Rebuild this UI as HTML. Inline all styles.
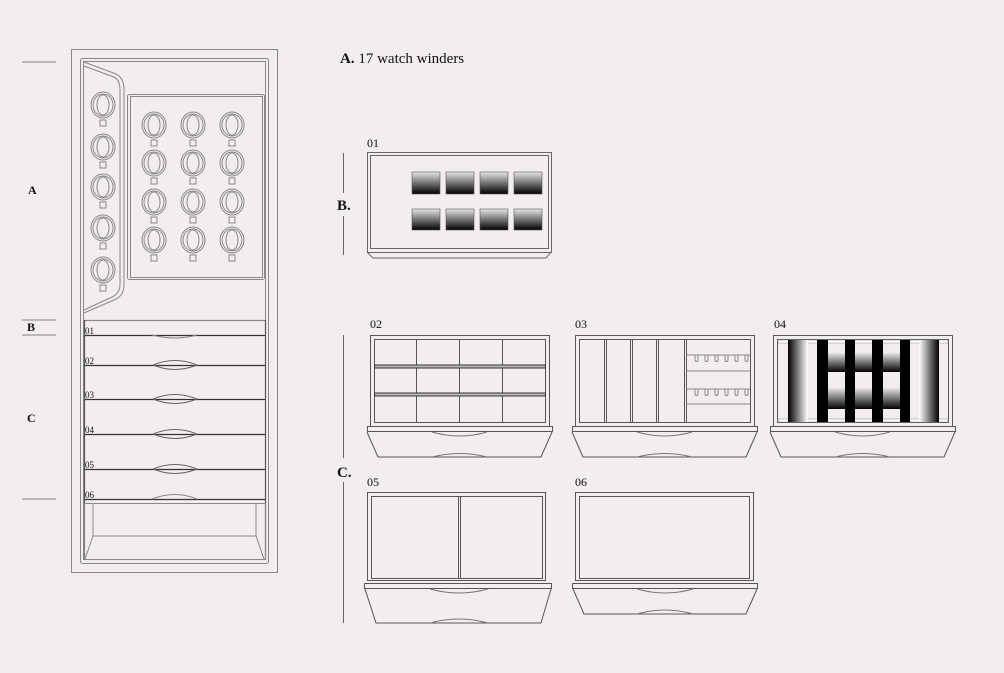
<!DOCTYPE html>
<html><head><meta charset="utf-8"><style>
html,body{margin:0;padding:0;background:#f2eeef;}
svg{display:block;}
text{font-family:"Liberation Serif",serif;fill:#111;}
</style></head><body>
<svg width="1004" height="673" viewBox="0 0 1004 673" xmlns="http://www.w3.org/2000/svg">
<defs>
<linearGradient id="gv" x1="0" y1="0" x2="0" y2="1"><stop offset="0" stop-color="#e6e6e6"/><stop offset="1" stop-color="#000"/></linearGradient>
<linearGradient id="gh" x1="0" y1="0" x2="1" y2="0"><stop offset="0" stop-color="#000"/><stop offset="1" stop-color="#fff"/></linearGradient>
<linearGradient id="gh2" x1="0" y1="0" x2="1" y2="0"><stop offset="0" stop-color="#fff"/><stop offset="1" stop-color="#000"/></linearGradient>
<g id="w" fill="none" stroke="#888" stroke-width="1"><ellipse cx="0" cy="0" rx="12" ry="13"/><ellipse cx="0" cy="0" rx="10" ry="11"/><ellipse cx="0" cy="0" rx="6" ry="10"/><rect x="-3" y="15" width="6" height="6"/></g>
<g id="hd" fill="none" stroke="#666"><path d="M-22 0 Q0 9 22 0"/><path d="M-22 0 Q0 -9 22 0"/></g>
</defs>
<g stroke="#999" stroke-width="1.3">
<line x1="22" y1="62" x2="56" y2="62"/><line x1="22" y1="320" x2="56" y2="320"/><line x1="22" y1="335" x2="56" y2="335"/><line x1="22" y1="499" x2="56" y2="499"/>
</g>
<g font-size="12" font-weight="bold"><text x="28" y="194">A</text><text x="27" y="331">B</text><text x="27" y="422">C</text></g>
<!-- cabinet -->
<g fill="none" stroke="#888" stroke-width="1">
<rect x="71.5" y="49.5" width="206" height="523"/>
<rect x="80.5" y="58.5" width="188" height="505" rx="2"/>
<rect x="83.5" y="61.5" width="182" height="498"/>
<path d="M84 62 L116 74 Q124 78 124 90 L124 285 Q124 296 114 300 L84 313"/>
<path d="M84 66 L114 77 Q120 80 120 90 L120 285 Q120 293 112 297 L84 310"/>
<rect x="127.5" y="94.5" width="137" height="185" rx="2"/>
<rect x="130.5" y="96.5" width="132" height="181"/>
</g>
<use href="#w" x="103" y="105"/><use href="#w" x="103" y="147"/><use href="#w" x="103" y="187"/><use href="#w" x="103" y="228"/><use href="#w" x="103" y="270"/>
<use href="#w" x="154" y="125"/><use href="#w" x="193" y="125"/><use href="#w" x="232" y="125"/>
<use href="#w" x="154" y="163"/><use href="#w" x="193" y="163"/><use href="#w" x="232" y="163"/>
<use href="#w" x="154" y="202"/><use href="#w" x="193" y="202"/><use href="#w" x="232" y="202"/>
<use href="#w" x="154" y="240"/><use href="#w" x="193" y="240"/><use href="#w" x="232" y="240"/>
<g stroke="#333" stroke-width="1.2">
<line x1="84" y1="320.5" x2="265" y2="320.5" stroke="#888"/>
<line x1="84" y1="335.5" x2="265" y2="335.5"/><line x1="84" y1="365.5" x2="265" y2="365.5"/><line x1="84" y1="399.5" x2="265" y2="399.5"/><line x1="84" y1="434.5" x2="265" y2="434.5"/><line x1="84" y1="469.5" x2="265" y2="469.5"/><line x1="84" y1="499.5" x2="265" y2="499.5"/>
<line x1="84.5" y1="320" x2="84.5" y2="560" stroke="#555"/><line x1="265.5" y1="320" x2="265.5" y2="560" stroke="#555"/>
</g>
<g font-family="Liberation Sans" font-size="9" fill="#111"><text x="85" y="334">01</text><text x="85" y="364">02</text><text x="85" y="398">03</text><text x="85" y="433">04</text><text x="85" y="468">05</text><text x="85" y="498">06</text></g>
<g fill="none" stroke="#888">
<path d="M152 335 Q175 341 197 335"/>
<use href="#hd" x="175" y="365"/><use href="#hd" x="175" y="399"/><use href="#hd" x="175" y="434"/><use href="#hd" x="175" y="469"/>
<path d="M152 499 Q175 490 197 499"/>
<rect x="84.5" y="503.5" width="181" height="56"/>
<path d="M93 503 L93 536 L256 536 L256 503 M93 536 L85 559 M256 536 L264 559"/>
</g>
<!-- header -->
<text x="340" y="63" font-size="15"><tspan font-weight="bold">A.</tspan>  17 watch winders</text>
<!-- B -->
<line x1="343.5" y1="153" x2="343.5" y2="193" stroke="#666"/><line x1="343.5" y1="216" x2="343.5" y2="255" stroke="#666"/>
<text x="337" y="210" font-size="15" font-weight="bold">B.</text>
<text x="367" y="147" font-size="12">01</text>
<g fill="none" stroke="#666">
<rect x="367.5" y="152.5" width="184" height="100"/><rect x="370.5" y="155.5" width="178" height="93"/>
<path d="M367 252 L373 258 L546 258 L551 252"/>
</g>
<g fill="url(#gv)" stroke="#555" stroke-width=".6">
<rect x="412" y="172" width="28" height="22"/><rect x="446" y="172" width="28" height="22"/><rect x="480" y="172" width="28" height="22"/><rect x="514" y="172" width="28" height="22"/>
<rect x="412" y="209" width="28" height="21"/><rect x="446" y="209" width="28" height="21"/><rect x="480" y="209" width="28" height="21"/><rect x="514" y="209" width="28" height="21"/>
</g>
<!-- C -->
<line x1="343.5" y1="335" x2="343.5" y2="458" stroke="#666"/><line x1="343.5" y1="482" x2="343.5" y2="623" stroke="#666"/>
<text x="337" y="477" font-size="15" font-weight="bold">C.</text>
<g font-size="12"><text x="370" y="328">02</text><text x="575" y="328">03</text><text x="774" y="328">04</text><text x="367" y="486">05</text><text x="575" y="486">06</text></g>
<!-- drawer fronts generic -->
<g fill="none" stroke="#555">
<!-- 02 -->
<rect x="370.5" y="335.5" width="179" height="91"/><rect x="374.5" y="339.5" width="171" height="83"/>
<rect x="367.5" y="426.5" width="185" height="5"/>
<path d="M367 432 L378 457 L541 457 L552 432"/>
<path d="M432 432 Q460 440 487 432" stroke="#777"/><path d="M432 457 Q460 450 487 457" stroke="#777"/>
<path d="M416.5 339 V422 M459.5 339 V422 M502.5 339 V422"/>
<rect x="374.5" y="365" width="171" height="3" stroke="#333" fill="#bbb"/><rect x="374.5" y="393" width="171" height="3" stroke="#333" fill="#bbb"/>
<!-- 03 -->
<rect x="575.5" y="335.5" width="179" height="91"/><rect x="579.5" y="339.5" width="171" height="83"/>
<rect x="572.5" y="426.5" width="185" height="5"/>
<path d="M572 432 L583 457 L746 457 L757 432"/>
<path d="M637 432 Q665 440 692 432" stroke="#777"/><path d="M637 457 Q665 450 692 457" stroke="#777"/>
<path d="M604.5 339 V422 M606.5 339 V422 M630.5 339 V422 M632.5 339 V422 M656.5 339 V422 M658.5 339 V422 M684.5 339 V422 M686.5 339 V422"/>
<path d="M686 355 H750 M686 371 H750 M686 389 H750 M686 404 H750" stroke="#888"/>
<path d="M695 355 v5 a1.5 1.5 0 0 0 3 0 v-5 M705 355 v5 a1.5 1.5 0 0 0 3 0 v-5 M715 355 v5 a1.5 1.5 0 0 0 3 0 v-5 M725 355 v5 a1.5 1.5 0 0 0 3 0 v-5 M735 355 v5 a1.5 1.5 0 0 0 3 0 v-5 M745 355 v5 a1.5 1.5 0 0 0 3 0 v-5" stroke="#888"/>
<path d="M695 389 v5 a1.5 1.5 0 0 0 3 0 v-5 M705 389 v5 a1.5 1.5 0 0 0 3 0 v-5 M715 389 v5 a1.5 1.5 0 0 0 3 0 v-5 M725 389 v5 a1.5 1.5 0 0 0 3 0 v-5 M735 389 v5 a1.5 1.5 0 0 0 3 0 v-5 M745 389 v5 a1.5 1.5 0 0 0 3 0 v-5" stroke="#888"/>
<!-- 04 -->
<rect x="773.5" y="335.5" width="179" height="91"/><rect x="777.5" y="339.5" width="171" height="83"/>
<rect x="770.5" y="426.5" width="185" height="5"/>
<path d="M770 432 L781 457 L944 457 L955 432"/>
<path d="M835 432 Q863 440 890 432" stroke="#777"/><path d="M835 457 Q863 450 890 457" stroke="#777"/>
<!-- 05 -->
<rect x="367.5" y="492.5" width="178" height="88"/><rect x="371.5" y="496.5" width="171" height="82"/>
<path d="M458.5 496 V578 M460.5 496 V578"/>
<rect x="364.5" y="583.5" width="187" height="5"/>
<path d="M365 589 L376 623 L541 623 L551 589"/>
<path d="M430 589 Q459 597 488 589" stroke="#777"/><path d="M430 623 Q459 615 488 623" stroke="#777"/>
<!-- 06 -->
<rect x="575.5" y="492.5" width="178" height="88"/><rect x="579.5" y="496.5" width="170" height="82"/>
<rect x="572.5" y="583.5" width="185" height="5"/>
<path d="M573 589 L584 614 L746 614 L757 589"/>
<path d="M637 589 Q665 597 693 589" stroke="#777"/><path d="M637 614 Q665 606 693 614" stroke="#777"/>
</g>
<!-- 04 contents -->
<g>
<rect x="778" y="340" width="170" height="3" fill="#fff" stroke="#888" stroke-width=".5"/><rect x="778" y="419" width="170" height="3" fill="#fff" stroke="#888" stroke-width=".5"/>
<rect x="788" y="340" width="20" height="82" fill="url(#gh)"/>
<rect x="919" y="340" width="20" height="82" fill="url(#gh2)"/>
<rect x="828" y="353" width="17" height="19" fill="url(#gv)"/><rect x="855" y="353" width="17" height="19" fill="url(#gv)"/><rect x="883" y="353" width="17" height="19" fill="url(#gv)"/>
<rect x="828" y="388" width="17" height="21" fill="url(#gv)"/><rect x="855" y="388" width="17" height="21" fill="url(#gv)"/><rect x="883" y="388" width="17" height="21" fill="url(#gv)"/>
<rect x="817" y="340" width="11" height="82" fill="#000"/><rect x="845" y="340" width="10" height="82" fill="#000"/><rect x="872" y="340" width="11" height="82" fill="#000"/><rect x="900" y="340" width="10" height="82" fill="#000"/>
</g>
</svg>
</body></html>
